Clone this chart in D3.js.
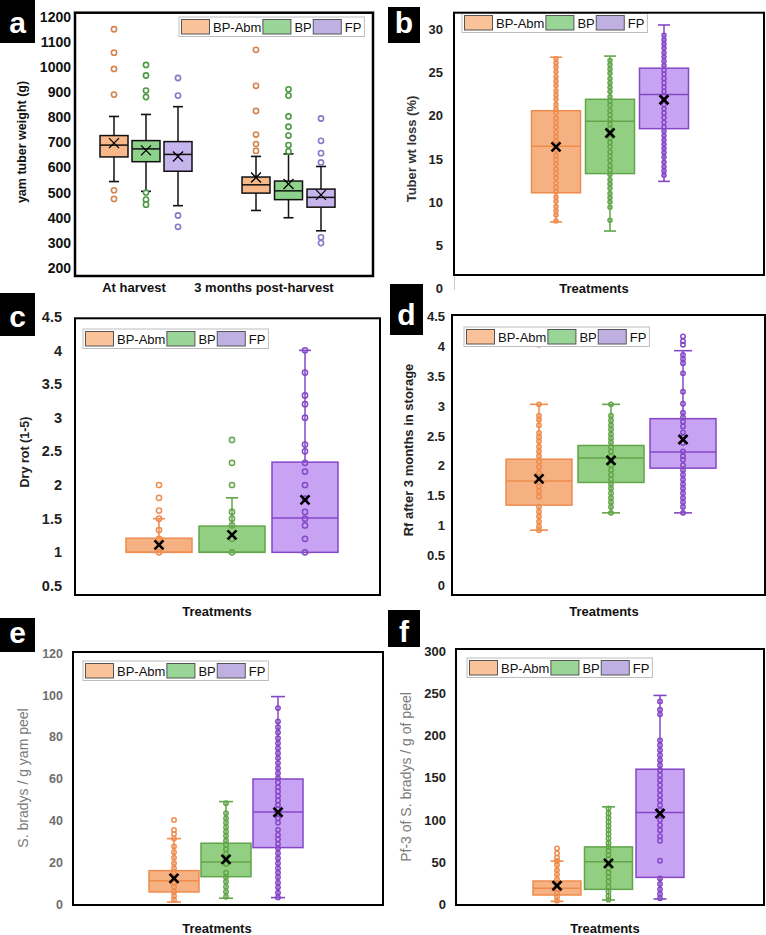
<!DOCTYPE html>
<html><head><meta charset="utf-8">
<script src="https://cdn.jsdelivr.net/npm/d3@7"></script>
<style>
body{margin:0;background:#fff;}
svg{display:block;font-family:"Liberation Sans",Arial,Helvetica,sans-serif;}
</style></head><body>
<svg id="chart" width="766" height="935"></svg>
<script>
// ---------------- DATA ----------------
const treatments = ["BP-Abm", "BP", "FP"];
const aGroups = ["At harvest", "3 months post-harvest"];
// stats order: [whiskerLow, q1, median, q3, whiskerHigh, mean]
const aHarvestStats = [[544,642,689,727,803,697],[505,623,674,707,811,668],[448,585,652,703,842,644]];
const aPostStats    = [[429,498,531,562,644,560],[400,472,507,546,654,534],[348,442,481,514,604,491]];
const aHarvestOutliers = [[1150,1057,992,890,509,475],[1008,966,906,880,500,472,452],[956,886,409,364]];
const aPostOutliers    = [[1068,925,825,731,693,666],[911,886,803,762,727,689,664],[795,706,657,620,322,299]];
const aTicks = [200,300,400,500,600,700,800,900,1000,1100,1200];

const bStats = [[7.7,11.08,16.46,20.58,26.77,16.4],[6.65,13.3,19.35,21.9,26.9,18.0],[12.4,18.5,22.46,25.5,30.5,21.85]];
const bPointsAbm = [26.6,26.1,25.6,25.1,24.5,24.0,23.5,22.9,22.4,21.9,21.3,20.8,20.3,19.7,19.2,18.7,18.1,17.6,17.1,16.5,16.0,15.4,14.9,14.4,13.8,13.3,12.8,12.2,11.7,11.2,10.6,10.1,9.5,9.0,8.5,7.8];
const bPointsBP  = [26.4,25.9,25.4,24.9,24.3,23.8,23.3,22.8,22.2,21.7,21.2,20.6,20.1,19.6,19.0,18.5,18.0,17.4,16.9,16.4,15.8,15.3,14.8,14.2,13.7,13.2,12.6,12.1,11.6,11.0,10.5,10.0,9.4,7.9];
const bPointsFP  = [29.3,28.8,28.3,27.8,27.3,26.8,26.3,25.8,25.3,24.8,24.3,23.8,23.3,22.8,22.3,21.8,21.3,20.8,20.3,19.8,19.2,18.7,18.2,17.7,17.2,16.7,16.2,15.7,15.2,14.6,14.1,13.6,13.1];
const bTicks = [0,5,10,15,20,25,30];

const cStats = [[1.0,1.0,1.0,1.21,1.5,1.11],[1.0,1.0,1.0,1.39,1.81,1.26],[1.0,1.0,1.51,2.34,4.0,1.78]];
const cPointsAbm = [2.0,1.81,1.62,1.5,1.33,1.2,1.0];
const cPointsBP  = [2.67,2.33,2.0,1.6,1.5,1.4,1.2,1.0];
const cPointsFP  = [4.0,3.67,3.33,3.2,3.0,2.6,2.5,2.33,2.2,2.0,1.8,1.6,1.5,1.4,1.2,1.0];
const cTicks = [0.5,1,1.5,2,2.5,3,3.5,4,4.5];

const dStats = [[0.92,1.34,1.745,2.11,3.03,1.78],[1.21,1.72,2.13,2.34,3.03,2.09],[1.21,1.96,2.23,2.79,3.93,2.44]];
const dPointsAbm = [4.03,3.03,2.84,2.77,2.68,2.55,2.48,2.41,2.32,2.24,2.16,2.07,1.98,1.88,1.82,1.73,1.65,1.57,1.48,1.31,1.23,1.15,1.06,0.98,0.92];
const dPointsBP  = [3.03,2.84,2.76,2.68,2.61,2.53,2.46,2.39,2.31,2.24,2.16,2.09,2.01,1.93,1.85,1.77,1.69,1.62,1.54,1.46,1.39,1.31,1.21];
const dPointsFP  = [4.17,4.09,4.03,3.86,3.79,3.72,3.55,3.24,3.04,2.89,2.81,2.74,2.66,2.56,2.48,2.38,2.24,2.16,2.10,2.01,1.93,1.85,1.77,1.69,1.62,1.54,1.46,1.39,1.31,1.21];
const dTicks = [0,0.5,1,1.5,2,2.5,3,3.5,4,4.5];

const eStats = [[1.1,5.9,11.2,16.1,31.4,12.4],[2.9,13.2,20.2,29.2,49.1,21.5],[3.2,27.1,44.1,59.9,99.3,44.0]];
const ePointsAbm = [40.3,35.5,33.6,31.4,27.6,24.9,22.3,19.6,17.2,15.1,12.4,10.3,8.4,6.0,4.0,2.1];
const ePointsBP  = [48.3,43.5,41.1,39.0,36.8,34.7,32.7,30.4,28.4,26.3,24.1,21.5,19.3,15.1,12.9,10.8,8.4,6.0,3.6];
const ePointsFP  = [93.8,87.4,84.7,82.1,79.4,77.0,74.6,72.2,69.9,67.5,65.1,62.7,60.3,58.2,56.0,53.9,51.8,49.6,47.5,45.5,43.2,41.1,39.0,35.6,33.2,31.1,28.9,26.8,24.4,22.0,19.6,17.2,15.1,12.9,10.3,8.1,5.5,3.3];
const eTicks = [0,20,40,60,80,100,120];

const fStats = [[3.5,11.0,18.9,27.6,51.2,22.0],[5.1,17.7,50.4,68.0,115.4,48.4],[6.3,31.9,108.7,160.0,247.4,107.5]];
const fPointsAbm = [66.2,60.3,55.1,51.2,46.5,40.5,35.5,29.6,24.0,18.1,13.0,9.0,4.3];
const fPointsBP  = [113.5,107.6,102.8,97.6,92.6,87.8,83.1,78.0,72.8,68.1,63.4,58.3,53.2,48.5,42.6,37.4,31.9,26.7,20.8,14.9,9.8,5.5];
const fPointsFP  = [240.3,230.5,225.0,194.2,188.3,182.4,176.5,170.6,164.7,158.8,152.8,146.9,141.0,135.1,129.2,123.3,117.4,111.5,105.6,99.7,93.7,87.8,80.7,75.2,51.5,30.7,24.0,17.7,12.2,7.1];
const fTicks = [0,50,100,150,200,250,300];

// ---------------- STYLE ----------------
const aFill = ["#F8B98A", "#8ED18B", "#C6B4EC"];
const aDot  = ["#D4844F", "#4E9A45", "#8A78C8"];
const dFill = ["#F6B183", "#93CF83", "#C8A3F4"];
const dStroke = ["#EE8C4E", "#62A54A", "#8447C7"];
const legFill = ["#F9C298", "#98D597", "#C0B0E1"];

const svg = d3.select("#chart");

function legend(x, y) {
  const lg = svg.append("g").attr("transform", `translate(${x},${y})`);
  const bg = lg.append("rect").attr("fill", "#fff").attr("stroke", "#bdbdbd").attr("stroke-width", 1);
  let cx = 2.5;
  treatments.forEach((t, i) => {
    lg.append("rect").attr("x", cx).attr("y", 2.5).attr("width", 28).attr("height", 14.5)
      .attr("fill", legFill[i]).attr("stroke", "#555").attr("stroke-width", 1);
    cx += 31.5;
    const tx = lg.append("text").attr("x", cx).attr("y", 14.5).attr("font-size", 13).attr("fill", "#111").text(t);
    cx += tx.node().getComputedTextLength() + 1.5;
  });
  bg.attr("width", cx + 1.5).attr("height", 19.5);
}

function panel(p) {
  const y = d3.scaleLinear().domain(p.ref.d).range(p.ref.r);
  const g = svg.append("g");
  const [fx0, fy0, fx1, fy1] = p.frame;

  // axis labels
  const ax = svg.append("g").attr("transform", `translate(${p.tickRight},0)`)
    .call(d3.axisLeft(y).tickValues(p.ticks).tickFormat(d => String(d)).tickSize(0).tickPadding(0));
  ax.select(".domain").remove();
  ax.selectAll("text").attr("font-size", p.tickSize).attr("font-weight", "bold")
    .attr("fill", p.tickColor).attr("font-family", "Liberation Sans, Arial, sans-serif");

  // y title
  svg.append("text").attr("transform", `translate(${p.title[1]},${p.title[2]}) rotate(-90)`)
    .attr("text-anchor", "middle").attr("dominant-baseline", "central")
    .attr("font-size", p.titleSize).attr("font-weight", p.titleWeight || "bold").attr("fill", p.titleColor)
    .text(p.title[0]);

  p.groups.forEach(grp => {
    const xs = d3.scalePoint().domain(treatments).range(grp.range);
    treatments.forEach((t, i) => {
      const s = grp.stats[i];
      const cx = xs(t);
      const bw = p.boxW, cw = p.capW;
      const isA = p.kind === "a";
      const lineCol = isA ? "#111" : dStroke[i];
      // whiskers
      [[s[3], s[4]], [s[1], s[0]]].forEach(([from, to]) => {
        g.append("line").attr("x1", cx).attr("x2", cx).attr("y1", y(from)).attr("y2", y(to))
          .attr("stroke", lineCol).attr("stroke-width", 1.5);
        g.append("line").attr("x1", cx - cw / 2).attr("x2", cx + cw / 2).attr("y1", y(to)).attr("y2", y(to))
          .attr("stroke", lineCol).attr("stroke-width", 1.6);
      });
      // box
      g.append("rect").attr("x", cx - bw / 2).attr("width", bw)
        .attr("y", y(s[3])).attr("height", y(s[1]) - y(s[3]))
        .attr("fill", isA ? aFill[i] : dFill[i]).attr("stroke", lineCol).attr("stroke-width", 1.5);
      g.append("line").attr("x1", cx - bw / 2).attr("x2", cx + bw / 2).attr("y1", y(s[2])).attr("y2", y(s[2]))
        .attr("stroke", lineCol).attr("stroke-width", 1.5);
      // points
      g.selectAll(null).data(grp.points[i]).join("circle")
        .attr("cx", cx).attr("cy", v => y(v)).attr("r", p.r)
        .attr("fill", isA ? "#fff" : "none").attr("fill-opacity", isA ? 0.85 : 0)
        .attr("stroke", isA ? aDot[i] : dStroke[i]).attr("stroke-width", isA ? 1.6 : 1.5);
      // mean marker
      const my = y(s[5]), h = isA ? 5 : 4.5;
      g.append("path").attr("d", `M${cx - h},${my - h}L${cx + h},${my + h}M${cx - h},${my + h}L${cx + h},${my - h}`)
        .attr("stroke", "#000").attr("stroke-width", isA ? 1.3 : 2.6).attr("fill", "none");
    });
  });

  legend(p.legend[0], p.legend[1]);

  // frame
  svg.append("rect").attr("x", fx0).attr("y", fy0).attr("width", fx1 - fx0).attr("height", fy1 - fy0)
    .attr("fill", "none").attr("stroke", "#000").attr("stroke-width", p.frameW || 2);

  // x labels
  p.xLabels.forEach(([txt, x, yy]) => {
    svg.append("text").attr("x", x).attr("y", yy).attr("text-anchor", "middle")
      .attr("font-size", 13).attr("font-weight", "bold").attr("fill", "#111").text(txt);
  });

  // letter box
  const [lx, ly, lw, lh, base] = p.letterBox;
  svg.append("rect").attr("x", lx).attr("y", ly).attr("width", lw).attr("height", lh).attr("fill", "#000");
  svg.append("text").attr("x", lx + lw / 2).attr("y", base).attr("text-anchor", "middle")
    .attr("font-size", 30).attr("font-weight", "bold").attr("fill", "#fff").text(p.letter);
}

// panel a
panel({
  kind: "a", frame: [75, 12.7, 373, 276], frameW: 2.5,
  ref: { d: [200, 1200], r: [268, 16.7] }, ticks: aTicks, tickRight: 71, tickColor: "#111", tickSize: 14,
  title: ["yam tuber weight (g)", 22, 142], titleColor: "#111", titleSize: 12.5,
  groups: [
    { range: [114, 178], stats: aHarvestStats, points: aHarvestOutliers },
    { range: [256, 321], stats: aPostStats, points: aPostOutliers }
  ],
  boxW: 28, capW: 10, r: 2.6,
  legend: [179, 17],
  xLabels: [[aGroups[0], 134, 292], [aGroups[1], 264, 292]],
  letter: "a", letterBox: [0, 0, 35, 43, 33]
});

// panel b
panel({
  kind: "d", frame: [454, 12.7, 764, 275],
  ref: { d: [0, 30], r: [288.5, 29.3] }, ticks: bTicks, tickRight: 443, tickColor: "#222", tickSize: 13,
  title: ["Tuber wt loss (%)", 411, 149], titleColor: "#333", titleSize: 13,
  groups: [{ range: [556, 664], stats: bStats, points: [bPointsAbm, bPointsBP, bPointsFP] }],
  boxW: 49, capW: 12, r: 2.0,
  legend: [462, 13],
  xLabels: [["Treatments", 594, 293]],
  letter: "b", letterBox: [388, 7, 32, 36, 33]
});
svg.append("line").attr("x1", 454.5).attr("x2", 454.5).attr("y1", 276).attr("y2", 290).attr("stroke", "#ccc");

// panel c
panel({
  kind: "d", frame: [75, 318.3, 380, 595],
  ref: { d: [0.5, 4.5], r: [586, 316.7] }, ticks: cTicks, tickRight: 62, tickColor: "#222", tickSize: 14.5,
  title: ["Dry rot (1-5)", 25, 452], titleColor: "#222", titleSize: 12.5,
  groups: [{ range: [159, 305], stats: cStats, points: [cPointsAbm, cPointsBP, cPointsFP] }],
  boxW: 66, capW: 12, r: 2.6,
  legend: [83, 329],
  xLabels: [["Treatments", 217, 616]],
  letter: "c", letterBox: [0, 293, 35, 43, 327]
});

// panel d
panel({
  kind: "d", frame: [452, 315, 765, 595],
  ref: { d: [0, 4.5], r: [585, 316.7] }, ticks: dTicks, tickRight: 445, tickColor: "#222", tickSize: 13,
  title: ["Rf after 3 months in storage", 408, 450], titleColor: "#222", titleSize: 13,
  groups: [{ range: [539, 683], stats: dStats, points: [dPointsAbm, dPointsBP, dPointsFP] }],
  boxW: 66, capW: 18, r: 2.2,
  legend: [464, 327],
  xLabels: [["Treatments", 604, 616]],
  letter: "d", letterBox: [390, 284, 33, 51, 325]
});

// panel e
panel({
  kind: "d", frame: [73, 652, 383, 905],
  ref: { d: [0, 120], r: [904.3, 653.3] }, ticks: eTicks, tickRight: 63, tickColor: "#6e6e6e", tickSize: 12.5,
  title: ["S. bradys / g yam peel", 23, 778], titleColor: "#7a7a7a", titleWeight: "normal", titleSize: 14,
  groups: [{ range: [174, 278], stats: eStats, points: [ePointsAbm, ePointsBP, ePointsFP] }],
  boxW: 50, capW: 14, r: 2.2,
  legend: [83, 661],
  xLabels: [["Treatments", 217, 933]],
  letter: "e", letterBox: [0, 618, 35, 34, 643]
});

// panel f
panel({
  kind: "d", frame: [456, 649, 764, 905],
  ref: { d: [0, 300], r: [904.3, 651] }, ticks: fTicks, tickRight: 446, tickColor: "#222", tickSize: 13,
  title: ["Pf-3 of S. bradys / g of  peel", 406, 777], titleColor: "#7a7a7a", titleWeight: "normal", titleSize: 14,
  groups: [{ range: [557, 660], stats: fStats, points: [fPointsAbm, fPointsBP, fPointsFP] }],
  boxW: 48, capW: 13, r: 2.2,
  legend: [467, 658],
  xLabels: [["Treatments", 605, 933]],
  letter: "f", letterBox: [388, 610, 32, 37, 642]
});
</script>
</body></html>
